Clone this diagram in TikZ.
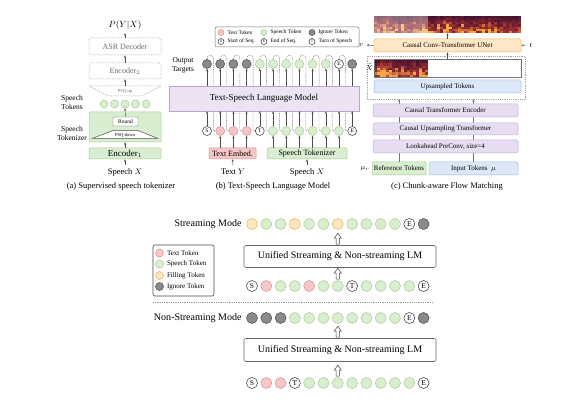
\documentclass[tikz,border=0pt]{standalone}
\usepackage{fontspec}
\setmainfont{Liberation Serif}
\usetikzlibrary{calc,arrows.meta}
\newcommand\fsz[1]{\fontsize{#1}{\fpeval{1.2*(#1)}}\selectfont}
\definecolor{gfill}{HTML}{D9EDD0}
\definecolor{gdraw}{HTML}{A6CF8C}
\definecolor{pfill}{HTML}{F6C7C7}
\definecolor{pdraw}{HTML}{DE8E8E}
\definecolor{ofill}{HTML}{FDE6C3}
\definecolor{odraw}{HTML}{EDB04C}
\definecolor{dfill}{HTML}{8A8A8A}
\definecolor{ddraw}{HTML}{4A4A4A}
\definecolor{lmfill}{HTML}{ECE4F3}
\definecolor{lmdraw}{HTML}{B9A3D0}
\definecolor{cfill}{HTML}{E7DDF0}
\definecolor{cdraw}{HTML}{C4ACD9}
\definecolor{bfill}{HTML}{DCE8F8}
\definecolor{bdraw}{HTML}{9FBBE6}
\definecolor{unfill}{HTML}{FDE7C6}
\definecolor{undraw}{HTML}{F0B45C}
\definecolor{speclo}{HTML}{1E0A30}
\definecolor{spechi}{HTML}{D63A2E}
\definecolor{specyel}{HTML}{F9B94A}
\def\tlS{S}\def\tlT{T}\def\tlE{E}
\newcommand\specgram[5]{%
  \pgfmathsetseed{#5}%
  \fill[speclo] (#1,#2) rectangle ++({3*#3},#4);
  \foreach \ci in {1,...,#3}{%
    \pgfmathsetmacro\cf{0.6+0.4*rnd}%
    \foreach \ri in {0,...,7}{%
      \pgfmathsetmacro\vv{int(min(100,max(0,(1.6-\ri/6)*100*\cf*(0.45+0.55*rnd))))}%
      \pgfmathsetmacro\ww{int(min(100,max(0,\vv-65)*2.5))}%
      \fill[specyel!\ww!spechi!\vv!speclo] ({#1+3*(\ci-1)},{#2+#4-(\ri+1)*#4/8}) rectangle ++(3,{#4/8});
    }%
  }%
}
\begin{document}
\begin{tikzpicture}[x=1pt,y=-1pt,
  tok/.style={circle, inner sep=0pt, minimum size=\toksize, line width=0.5pt, font=\tokfont},
  tokg/.style={tok, fill=gfill, draw=gdraw},
  tokp/.style={tok, fill=pfill, draw=pdraw},
  toko/.style={tok, fill=ofill, draw=odraw},
  tokd/.style={tok, fill=dfill, draw=ddraw},
  tokS/.style={tok, fill=white, draw=black!80},
  tokT/.style={tok, fill=white, draw=black!80},
  tokE/.style={tok, fill=white, draw=black!80},
  dsh/.style={dash pattern=on 1.2pt off 1pt},
  dbox/.style={draw=gray!70, dsh, rounded corners=1.5pt, fill=white, inner sep=0pt, font=\fsz{8}, text=gray!85!black, line width=0.5pt},
  gbox/.style={draw=gdraw, fill=gfill, inner sep=0pt, line width=0.5pt, rounded corners=1pt},
  pbox/.style={draw=pdraw, fill=pfill, inner sep=0pt, line width=0.5pt, rounded corners=1pt},
  bbox/.style={draw=bdraw, fill=bfill, inner sep=0pt, line width=0.5pt, rounded corners=1.5pt},
  cbox/.style={draw=cdraw, fill=cfill, inner sep=0pt, line width=0.5pt, rounded corners=1.5pt, font=\fsz{7}},
  sarr/.style={-{Stealth[length=2.5pt,width=2pt]}, line width=0.4pt, draw=black!70},
  hollow/.pic={\draw[fill=white, draw=black!75, line width=0.5pt] (-1.6,0) -- (-1.6,-6) -- (-3.6,-6) -- (0,-11) -- (3.6,-6) -- (1.6,-6) -- (1.6,0) -- cycle;}
]
\fill[white] (0,0) rectangle (587,406);
\useasboundingbox (0,0) rectangle (587,406);

% ---------------- panel (a)
\node[font=\fsz{9}] (pyx) at (125,25) {$P(Y|X)$};
\node[dbox, minimum width=72, minimum height=17] (asr) at (125,46.5) {ASR Decoder};
\node[dbox, minimum width=72, minimum height=16] (enc2) at (125,71) {Encoder$_2$};
\draw[draw=gray!70, dsh, line width=0.5pt] (89,86) -- (161,86) -- (142,96) -- (108,96) -- cycle;
\node[font=\fsz{4.5}, text=gray!85!black] (psqup) at (125,91.5) {PSQ-up};
\coordinate (uptop) at (125,86);
\def\toksize{8pt}\def\tokfont{\fsz{5}}
\foreach \i in {0,...,4}{\node[tokg] (st\i) at ({104+10.5*\i},104) {};}
\node[gbox, minimum width=72, minimum height=30] (tokz) at (125,127) {};
\node[draw=black!60, fill=white, minimum width=25, minimum height=9, inner sep=0pt, rounded corners=0.8pt, font=\fsz{5.5}] (round) at (125.5,121.5) {Round};
\draw[fill=white, draw=black!70, line width=0.5pt] (113,130.5) -- (138,130.5) -- (158,138.5) -- (92,138.5) -- cycle;
\node[font=\fsz{4.5}] (psqdn) at (125,135.2) {PSQ-down};
\node[gbox, minimum width=72, minimum height=11, font=\fsz{9}] (enc1) at (125,153.5) {Encoder$_1$};
\node[font=\fsz{8.5}] (spx) at (125,172) {Speech $X$};
\draw[sarr] (spx.north) -- (enc1.south);
\draw[sarr] (enc1.north) -- (tokz.south);
\draw[sarr] (round.north) -- (st2.south);
\draw[sarr] (uptop) -- (enc2.south);
\draw[sarr] (enc2.north) -- (asr.south);
\draw[sarr] (asr.north) -- (pyx.south);
\node[font=\fsz{7.5}, align=center] (lblst) at (72,102.5) {Speech\\Tokens};
\node[font=\fsz{7.5}, align=center] (lbltz) at (72,133.5) {Speech\\Tokenizer};
\node[font=\fsz{8.5}] (capa) at (121,186) {(a) Supervised speech tokenizer};

% ---------------- panel (b)
\node[draw=black!55, rounded corners=2pt, minimum width=144, minimum height=20, line width=0.5pt] (legb) at (287,37) {};
\def\toksize{6pt}\def\tokfont{\fsz{4}}
\node[tokp] (lb1) at (221,32.5) {};
\node[anchor=west, font=\fsz{5.5}] (lb1t) at (224,32.5) {Text Token};
\node[tokg] (lb2) at (264,32.5) {};
\node[anchor=west, font=\fsz{5.5}] (lb2t) at (267,32.5) {Speech Token};
\node[tokd] (lb3) at (312,32.5) {};
\node[anchor=west, font=\fsz{5.5}] (lb3t) at (315,32.5) {Ignore Token};
\node[tokS] (lb4) at (221,41.5) {S};
\node[anchor=west, font=\fsz{5.5}] (lb4t) at (224,41.5) {Start of Seq.};
\node[tokE] (lb5) at (264,41.5) {E};
\node[anchor=west, font=\fsz{5.5}] (lb5t) at (267,41.5) {End of Seq.};
\node[tokT] (lb6) at (312,41.5) {T};
\node[anchor=west, font=\fsz{5.5}] (lb6t) at (315,41.5) {Turn of Speech};

\node[font=\fsz{7.5}, align=center] (ot) at (183,65) {Output\\Targets};
\def\toksize{9pt}\def\tokfont{\fsz{5.5}}
\foreach \ty [count=\k] in {d,d,d,d,g,g,g,g,g,g,E,d}{\node[tok\ty] (bt\k) at ({207+13.2*(\k-1)},64) {\csname tl\ty\endcsname};}
\foreach \ty [count=\k] in {S,p,p,p,T,g,g,g,g,g,g,E}{\node[tok\ty] (bb\k) at ({207+13.2*(\k-1)},131) {\csname tl\ty\endcsname};}
\foreach \i in {1,...,11}{%
  \pgfmathtruncatemacro\j{\i+1}%
  \draw[dsh, line width=0.4pt, draw=black!60] (bt\i.north) .. controls ($(bt\i.north)+(0,-6)$) and ($(bt\i.north)+(6.6,-6)$) .. ($(bt\i.north)+(6.6,0)$) -- ($(bb\j.west)+(-2.1,-4)$) .. controls ($(bb\j.west)+(-2.1,0)$) .. (bb\j.west);
}
\node[draw=lmdraw, fill=lmfill, minimum width=190, minimum height=25, inner sep=0pt, line width=0.5pt, font=\fsz{9}] (lmb) at (264,98.5) {Text-Speech Language Model};
\foreach \k in {1,...,12}{%
  \draw[sarr] (bb\k.north) -- (bb\k.north |- lmb.south);
  \draw[sarr] (bt\k.south |- lmb.north) -- (bt\k.south);
}
\node[pbox, minimum width=47, minimum height=11, font=\fsz{8}] (temb) at (232.5,153.5) {Text Embed.};
\node[gbox, minimum width=80, minimum height=11, font=\fsz{8}] (stok) at (307,153.5) {Speech Tokenizer};
\foreach \k in {2,3,4}{\draw[sarr] (temb.north -| bb\k) -- (bb\k.south);}
\foreach \k in {6,...,11}{\draw[sarr] (stok.north -| bb\k) -- (bb\k.south);}
\node[font=\fsz{8.5}] (ty) at (233,172) {Text $Y$};
\node[font=\fsz{8.5}] (sx) at (307,172) {Speech $X$};
\draw[sarr] (ty.north) -- (temb.south);
\draw[sarr] (sx.north) -- (stok.south);
\node[font=\fsz{8.5}] (capb) at (273,186) {(b) Text-Speech Language Model};

% ---------------- panel (c)
\specgram{374}{16}{49}{17}{7}
\fill[white, opacity=0.35] (374,16) rectangle (428,33);
\node[inner sep=0pt, minimum width=147, minimum height=17] (spec1) at (447.5,24.5) {};
\node[draw=undraw, fill=unfill, inner sep=0pt, line width=0.5pt, rounded corners=1.5pt, minimum width=147, minimum height=13, font=\fsz{7}] (unet) at (447.5,45.5) {Causal Conv-Transformer UNet};
\coordinate (dbnw) at (367,56);
\coordinate (dbse) at (525,99);
\draw[draw=gray!70, dsh, line width=0.5pt] (dbnw) rectangle (dbse);
\specgram{374}{59}{18}{18}{3}
\node[draw=black!55, line width=0.5pt, minimum width=147, minimum height=18, inner sep=0pt] (xt) at (447.5,68) {};
\node[font=\fsz{7.5}, inner sep=0pt, anchor=east] (xtl) at (373.2,67) {$\tilde{X}$};
\node[bbox, minimum width=147, minimum height=13, font=\fsz{7}] (ups) at (447.5,86.5) {Upsampled Tokens};
\node[gbox, minimum width=54, minimum height=13, font=\fsz{7}] (reft) at (399,168.5) {Reference Tokens};
\node[bbox, minimum width=89, minimum height=13, font=\fsz{7}] (inpt) at (473.5,168.5) {Input Tokens\ \ $\mu$};
\draw[sarr, draw=black!55] (reft.north) -- (reft.north |- dbse);
\draw[sarr, draw=black!55] (inpt.north) -- (inpt.north |- dbse);
\node[cbox, minimum width=145, minimum height=13] (cte) at (445.5,110.5) {Causal Transformer Encoder};
\node[cbox, minimum width=145, minimum height=12] (cut) at (445.5,129) {Causal Upsampling Transformer};
\node[cbox, minimum width=145, minimum height=13] (lpc) at (445.5,146.5) {Lookahead PreConv, size=4};
\node[font=\fsz{7}] (mur) at (365,168.5) {$\mu_r$};
\draw[sarr] (xt.north) -- (unet.south);
\draw[sarr] (unet.north) -- (spec1.south);
\node[font=\fsz{7}] (vl) at (361,45) {$v$};
\node[font=\fsz{7}] (tl) at (531,45) {$t$};
\draw[sarr] (unet.west) -- (vl.east);
\draw[sarr] (tl.west) -- (unet.east);
\node[font=\fsz{8.5}] (capc) at (447,186) {(c) Chunk-aware Flow Matching};

% ---------------- bottom
\def\toksize{11pt}\def\tokfont{\fsz{7.5}}
\foreach \ty [count=\k] in {o,g,g,o,g,g,o,g,g,g,g,E,d}{\node[tok\ty] (so\k) at ({252+14.3*(\k-1)},224) {\csname tl\ty\endcsname};}
\foreach \ty [count=\k] in {S,p,g,g,p,g,g,T,g,g,g,g,E}{\node[tok\ty] (si\k) at ({252+14.3*(\k-1)},286) {\csname tl\ty\endcsname};}
\foreach \ty [count=\k] in {d,d,d,g,g,g,g,g,g,g,g,E,d}{\node[tok\ty] (no\k) at ({252+14.3*(\k-1)},318) {\csname tl\ty\endcsname};}
\foreach \ty [count=\k] in {S,p,p,T,g,g,g,g,g,g,g,g,E}{\node[tok\ty] (ni\k) at ({252+14.3*(\k-1)},383) {\csname tl\ty\endcsname};}
\node[draw=black!60, fill=white, rounded corners=2pt, line width=0.6pt, minimum width=192, minimum height=22, inner sep=0pt, font=\fsz{10}] (lm1) at (340,256.5) {Unified Streaming \& Non-streaming LM};
\node[draw=black!60, fill=white, rounded corners=2pt, line width=0.6pt, minimum width=192, minimum height=23, inner sep=0pt, font=\fsz{10}] (lm2) at (340,350) {Unified Streaming \& Non-streaming LM};
\pic at ($(lm1.north -| so7)+(0,-1)$) {hollow};
\pic at ($(si7.north)+(0,-1)$) {hollow};
\pic at ($(lm2.north -| no7)+(0,-1)$) {hollow};
\pic at ($(ni7.north)+(0,-1)$) {hollow};
\node[anchor=east, font=\fsz{10}] (sm) at (245,224) {Streaming Mode};
\node[anchor=east, font=\fsz{10}] (nsm) at (245,318) {Non-Streaming Mode};
\node[draw=black!70, rounded corners=2pt, line width=0.6pt, minimum width=61, minimum height=51, inner sep=0pt] (leg2) at (183.5,270.5) {};
\def\toksize{8pt}
\node[tokp] (l2a) at (159.5,253) {};
\node[anchor=west, font=\fsz{7}] (l2at) at (163.5,253) {Text Token};
\node[tokg] (l2b) at (159.5,264) {};
\node[anchor=west, font=\fsz{7}] (l2bt) at (163.5,264) {Speech Token};
\node[toko] (l2c) at (159.5,275.5) {};
\node[anchor=west, font=\fsz{7}] (l2ct) at (163.5,275.5) {Filling Token};
\node[tokd] (l2d) at (159.5,286.5) {};
\node[anchor=west, font=\fsz{7}] (l2dt) at (163.5,286.5) {Ignore Token};
\draw[gray!80, dash pattern=on 0.8pt off 1pt, line width=0.7pt] (153,302) -- (433,302);
\end{tikzpicture}
\end{document}
